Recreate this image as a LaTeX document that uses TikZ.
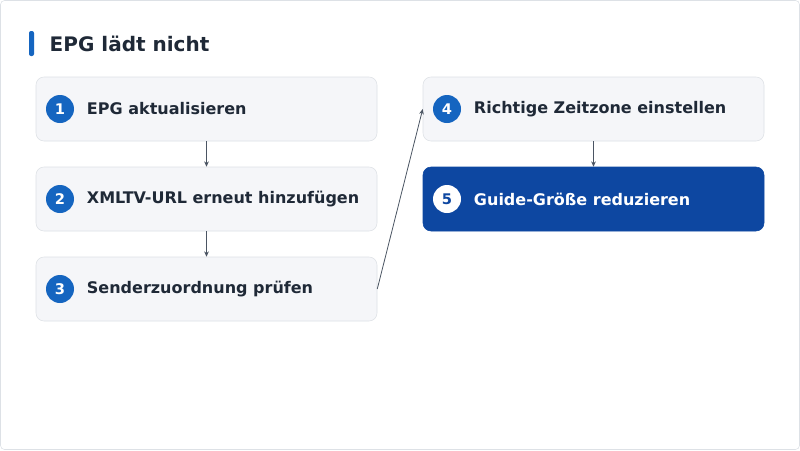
\documentclass[tikz,border=0pt]{standalone}
\usepackage{fontspec}
\setmainfont{DejaVu Sans}
\usetikzlibrary{arrows.meta,positioning}
\definecolor{stepfill}{HTML}{F5F6F9}
\definecolor{stepline}{HTML}{DDE1E6}
\definecolor{numblue}{HTML}{1565C0}
\definecolor{darkblue}{HTML}{0D47A1}
\definecolor{textdark}{HTML}{1F2937}
\definecolor{arrowgray}{HTML}{4B5563}
\tikzset{stepbox/.style={rectangle,rounded corners=6pt,draw=stepline,fill=stepfill,minimum width=255.75pt,minimum height=48pt,inner sep=0pt},
		final/.style={stepbox,draw=darkblue,fill=darkblue},
		num/.style={circle,fill=numblue,minimum size=21pt,inner sep=0pt,text=white,font=\bfseries\fontsize{11}{13}\selectfont},
		lab/.style={anchor=west,text=textdark,font=\bfseries\fontsize{12}{14}\selectfont},
		flow/.style={-{Stealth[length=4pt,width=3.5pt]},arrowgray,semithick}}

\begin{document}
\begin{tikzpicture}[x=0.75pt,y=-0.75pt]
		\draw[stepline,fill=white,rounded corners=3pt] (0.5,0.5) rectangle (799.5,449.5);
		\useasboundingbox (0,0) rectangle (800,450);
		\fill[numblue,rounded corners=1.5pt] (29,31) rectangle (34,56);
		\node[anchor=west,text=textdark,font=\bfseries\fontsize{15}{18}\selectfont] (title) at (45,44) {EPG lädt nicht};
		% left column
		\node[stepbox] (s1) at (206.5,109) {};
		\node[stepbox] (s2) at (206.5,199) {};
		\node[stepbox] (s3) at (206.5,289) {};
		% right column
		\node[stepbox] (s4) at (593.5,109) {};
		\node[final] (s5) at (593.5,199) {};
		\node[num] (n1) at (60,109) {1};
		\node[lab] at ([xshift=6pt]n1.east) {EPG aktualisieren};
		\node[num] (n2) at (60,199) {2};
		\node[lab] at ([xshift=6pt]n2.east) {XMLTV-URL erneut hinzufügen};
		\node[num] (n3) at (60,289) {3};
		\node[lab] at ([xshift=6pt]n3.east) {Senderzuordnung prüfen};
		\node[num] (n4) at (447,109) {4};
		\node[lab] at ([xshift=6pt]n4.east) {Richtige Zeitzone einstellen};
		\node[num,fill=white,text=darkblue] (n5) at (447,199) {5};
		\node[lab,text=white] at ([xshift=6pt]n5.east) {Guide-Größe reduzieren};
		\draw[flow] (s1) -- (s2);
		\draw[flow] (s2) -- (s3);
		\draw[flow] (s3.east) -- (s4.west);
		\draw[flow] (s4) -- (s5);
	\end{tikzpicture}
\end{document}
